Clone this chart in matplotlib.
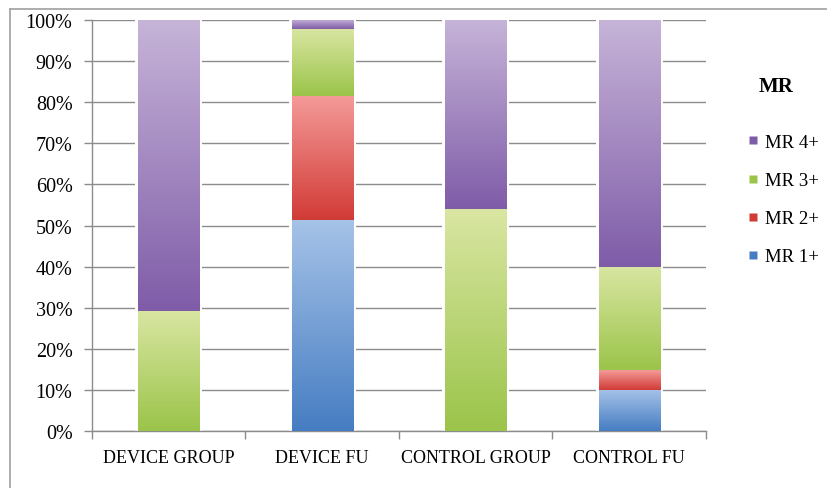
import numpy as np
import matplotlib.pyplot as plt
from matplotlib.colors import to_rgb
from matplotlib.lines import Line2D

# MR grade distribution per group (percent of patients)
groups = ["DEVICE GROUP", "DEVICE FU", "CONTROL GROUP", "CONTROL FU"]
mr1 = [0, 51.4, 0, 10]
mr2 = [0, 30, 0, 4.8]
mr3 = [29.2, 16.4, 54, 25.2]
mr4 = [70.8, 2.2, 46, 60]
series_names = ["MR 1+", "MR 2+", "MR 3+", "MR 4+"]

# (top, bottom) gradient colours for each grade
grad_colors = {
    "MR 1+": ("#a6c3e8", "#467dc2"),
    "MR 2+": ("#f49a98", "#d13b36"),
    "MR 3+": ("#d9e6a2", "#9bc44a"),
    "MR 4+": ("#c6b4d8", "#7f5ca8"),
}

plt.rcParams['font.family'] = ['Liberation Serif', 'DejaVu Serif']

fig = plt.figure(figsize=(8.28, 4.89), dpi=100)
ax = fig.add_axes([92 / 828, 1 - 432 / 489, (706 - 92) / 828, (432 - 21) / 489])

x = np.arange(len(groups))
width = 0.40
grid_c = "#8c8c8c"


def gradient_fill(ax, patch, top, bottom):
    x0, y0 = patch.get_x(), patch.get_y()
    w, h = patch.get_width(), patch.get_height()
    if h <= 0:
        return
    c_top, c_bot = np.array(to_rgb(top)), np.array(to_rgb(bottom))
    t = np.linspace(0, 1, 256)[:, None]
    img = (c_bot * (1 - t) + c_top * t)[:, None, :]
    ax.imshow(img, extent=[x0, x0 + w, y0, y0 + h], origin="lower",
              aspect="auto", interpolation="bilinear", zorder=3)


bottom = np.zeros(len(groups))
for name, vals in zip(series_names, [mr1, mr2, mr3, mr4]):
    vals = np.array(vals, dtype=float)
    # soft white halo so gridlines fade out next to the bars
    ax.bar(x, vals, width + 0.035, bottom=bottom, color="white",
           edgecolor="none", zorder=2)
    bars = ax.bar(x, vals, width, bottom=bottom, color="none",
                  edgecolor="none", zorder=3)
    for p in bars:
        gradient_fill(ax, p, *grad_colors[name])
    bottom += vals

ax.set_xlim(-0.5, len(groups) - 0.5)
ax.set_ylim(0, 100)

ax.set_yticks(np.arange(0, 101, 10))
ax.set_yticklabels([f"{v}%" for v in range(0, 101, 10)], fontsize=14.5)
ax.yaxis.grid(True, color=grid_c, linewidth=1.0, zorder=1)
ax.set_axisbelow(True)
ax.tick_params(axis="y", length=6, width=1.0, color=grid_c, pad=8)

ax.set_xticks(x)
ax.set_xticklabels(groups, fontsize=13)
ax.set_xticks(np.arange(-0.5, len(groups), 1), minor=True)
ax.tick_params(axis="x", which="major", length=0, pad=13)
ax.tick_params(axis="x", which="minor", length=6, width=1.0, color=grid_c)

for side in ["top", "right"]:
    ax.spines[side].set_visible(False)
for side in ["left", "bottom"]:
    ax.spines[side].set_color(grid_c)
    ax.spines[side].set_linewidth(1.0)

# legend, highest grade first
handles = [Line2D([], [], linestyle="none", marker="s", markersize=6,
                  markerfacecolor=grad_colors[n][1], markeredgecolor="none")
           for n in series_names[::-1]]
leg = fig.legend(handles, series_names[::-1], loc="upper left",
                 bbox_to_anchor=(731 / 828, 1 - 118 / 489), frameon=False,
                 fontsize=13.5, handlelength=0.6, handletextpad=0.3,
                 labelspacing=1.12)
fig.text(776 / 828, 1 - 87 / 489, "MR", fontsize=15, fontweight="bold",
         ha="center", va="center")

# outer chart frame
frame_c = "#a0a0a0"
fig.add_artist(Line2D([10 / 828, 10 / 828], [0, 1 - 9.5 / 489],
                      color=frame_c, linewidth=1.2, transform=fig.transFigure))
fig.add_artist(Line2D([10 / 828, 1], [1 - 9.5 / 489, 1 - 9.5 / 489],
                      color=frame_c, linewidth=1.2, transform=fig.transFigure))

fig.savefig("out.png", dpi=100)
